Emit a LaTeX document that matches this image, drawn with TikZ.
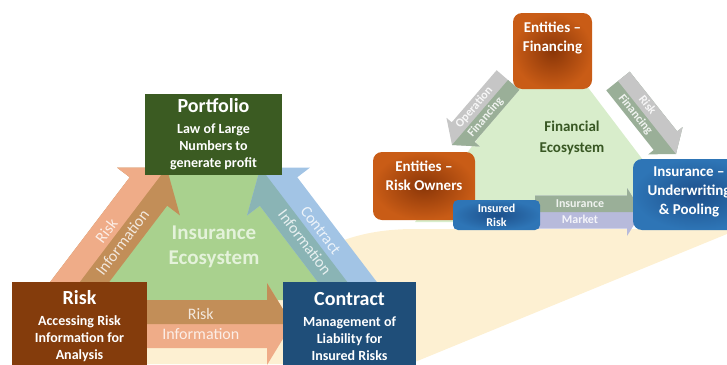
\documentclass[tikz,border=0pt]{standalone}
\usepackage{fontspec}
\setmainfont{Carlito}
\usetikzlibrary{calc, positioning}

\definecolor{portgreen}{HTML}{3B5B22}
\definecolor{riskbrown}{HTML}{843C0C}
\definecolor{contrblue}{HTML}{1F4E79}
\definecolor{ecogreen}{HTML}{A9D18E}
\definecolor{finegreen}{HTML}{D8EDCB}
\definecolor{floorcream}{HTML}{FDF0D2}
\definecolor{salmon}{HTML}{EFAC88}
\definecolor{tanbrown}{HTML}{C28E58}
\definecolor{skyblue}{HTML}{A2C4E5}
\definecolor{tealgrey}{HTML}{8AB4B5}
\definecolor{lightgrey}{HTML}{C6C6C6}
\definecolor{greygreen}{HTML}{9AAF98}
\definecolor{lavender}{HTML}{B7BADB}
\definecolor{orangeout}{HTML}{C95C16}
\definecolor{orangein}{HTML}{8A3608}
\definecolor{blueout}{HTML}{2E75B6}
\definecolor{bluein}{HTML}{1D4F8A}
\definecolor{ecotext}{HTML}{E4F2DA}
\definecolor{darkgreen}{HTML}{385723}

% two-tone block arrow: tail, tip, shaft half width, head half width, head length, left colour, right colour
\newcommand{\duoarrow}[7]{%
  \coordinate (hb) at ($(#2)!#5!(#1)$);
  \fill[#7] (#1) -- ($(#1)!#3!90:(#2)$) -- ($(hb)!#3!90:(#2)$) -- ($(hb)!#4!90:(#2)$) -- (#2)
    -- ($(hb)!#4!-90:(#2)$) -- ($(hb)!#3!-90:(#2)$) -- ($(#1)!#3!-90:(#2)$) -- cycle;
  \fill[#6] (#1) -- ($(#1)!#3!90:(#2)$) -- ($(hb)!#3!90:(#2)$) -- ($(hb)!#4!90:(#2)$) -- (#2) -- cycle;}

\begin{document}
\begin{tikzpicture}[x=1pt, y=-1pt,
    sqbox/.style={rectangle, align=center, text=white, font=\bfseries\fontsize{14}{17}\selectfont, inner sep=0pt},
    rbox/.style={rectangle, rounded corners=9pt, shading=radial},
    orbox/.style={rbox, inner color=orangein, outer color=orangeout},
    blbox/.style={rbox, inner color=bluein, outer color=blueout},
    rtext/.style={align=center, text=white, font=\bfseries\fontsize{15}{19}\selectfont, inner sep=0pt},
    arrtext/.style={align=center, text=white, text opacity=0.8, font=\fontsize{16}{20}\selectfont, inner sep=0pt},
    farrtext/.style={align=center, text=white, text opacity=0.85, font=\bfseries\fontsize{12}{15}\selectfont, inner sep=0pt}]
  \useasboundingbox (0,0) rectangle (727,364);

  % floor and ecosystems
  \fill[floorcream] (90,364) -- (300,262) .. controls (335,240) and (365,230) .. (410,229)
    -- (727,229) -- (727,234) -- (410,364) -- cycle;
  \fill[ecogreen] (55,300) -- (370,300) -- (213,95) -- cycle;
  \fill[finegreen] (415,222) -- (690,222) -- (552,40) -- cycle;

  % arrow ends
  \coordinate (ri-a) at (66,300);   \coordinate (ri-b) at (166.6,167.6);
  \coordinate (ci-a) at (361,300);  \coordinate (ci-b) at (260.4,167.6);
  \coordinate (rh-a) at (140,324);  \coordinate (rh-b) at (292,324);
  \coordinate (of-a) at (508,80);   \coordinate (of-b) at (452,145);
  \coordinate (rf-a) at (618,81);   \coordinate (rf-b) at (676,154);
  \coordinate (im-a) at (535,212);  \coordinate (im-b) at (642,212);

  \duoarrow{ri-a}{ri-b}{23.5pt}{39.5pt}{30pt}{salmon}{tanbrown}
  \duoarrow{ci-a}{ci-b}{23.5pt}{39.5pt}{30pt}{tealgrey}{skyblue}
  \duoarrow{rh-a}{rh-b}{24pt}{41pt}{25pt}{tanbrown}{salmon}
  \duoarrow{of-a}{of-b}{15pt}{22pt}{17pt}{greygreen}{lightgrey}
  \duoarrow{rf-a}{rf-b}{15pt}{22pt}{17pt}{lightgrey}{greygreen}
  \duoarrow{im-a}{im-b}{16.5pt}{24pt}{15pt}{greygreen}{lavender}

  \node[arrtext, rotate=52.8] (ri-txt) at ($(ri-a)!0.48!(ri-b)$) {Risk\\Information};
  \node[arrtext, rotate=-52.8] (ci-txt) at ($(ci-a)!0.48!(ci-b)$) {Contract\\Information};
  \node[arrtext] (rh-txt) at ($(rh-a)!0.4!(rh-b)$) {Risk\\Information};
  \node[farrtext, rotate=49.3] (of-txt) at ($(of-a)!0.5!(of-b)$) {Operation\\Financing};
  \node[farrtext, rotate=-51.5] (rf-txt) at ($(rf-a)!0.4!(rf-b)$) {Risk\\Financing};
  \node[farrtext, font=\bfseries\fontsize{12}{16}\selectfont] (im-txt) at ($(im-a)!0.42!(im-b)$) {Insurance\\Market};

  % insurance ecosystem
  \node[sqbox, fill=portgreen, minimum width=137pt, minimum height=81pt] (port) at (213.5,134.5)
    {{\fontsize{20}{22}\selectfont Portfolio}\\[4pt]Law of Large\\Numbers to\\generate profit};
  \node[sqbox, fill=riskbrown, minimum width=135pt, minimum height=88pt] (risk) at (79.5,326)
    {{\fontsize{20}{22}\selectfont Risk}\\[4pt]Accessing Risk\\Information for\\Analysis};
  \node[sqbox, fill=contrblue, minimum width=133pt, minimum height=88pt] (contr) at (349.5,326)
    {{\fontsize{20}{22}\selectfont Contract}\\[4pt]Management of\\Liability for\\Insured Risks};
  \node[align=center, text=ecotext, font=\bfseries\fontsize{21}{25}\selectfont] (ins-eco) at (214,247) {Insurance\\Ecosystem};

  % financial ecosystem
  \node[orbox, minimum width=79pt, minimum height=76pt] (fin) at (552.5,51) {};
  \node[rtext, below=9pt of fin.north] (fin-txt) {Entities --\\Financing};
  \node[orbox, minimum width=102pt, minimum height=68pt] (owner) at (424,186) {};
  \node[rtext, below=9pt of owner.north] (owner-txt) {Entities --\\Risk Owners};
  \node[blbox, minimum width=128pt, minimum height=71pt] (insur) at (697,194.5) {};
  \node[rtext, below=8pt of insur.north, xshift=-8pt] (insur-txt) {Insurance --\\Underwriting\\\& Pooling};
  \node[blbox, rounded corners=5pt, minimum width=87pt, minimum height=30pt, align=center, text=white,
    font=\bfseries\fontsize{12}{14}\selectfont, inner sep=0pt] (insrisk) at (496.5,215) {Insured\\Risk};
  \node[align=center, text=darkgreen, font=\bfseries\fontsize{15}{21}\selectfont] (fin-eco) at (572,137.5) {Financial\\Ecosystem};
\end{tikzpicture}
\end{document}
